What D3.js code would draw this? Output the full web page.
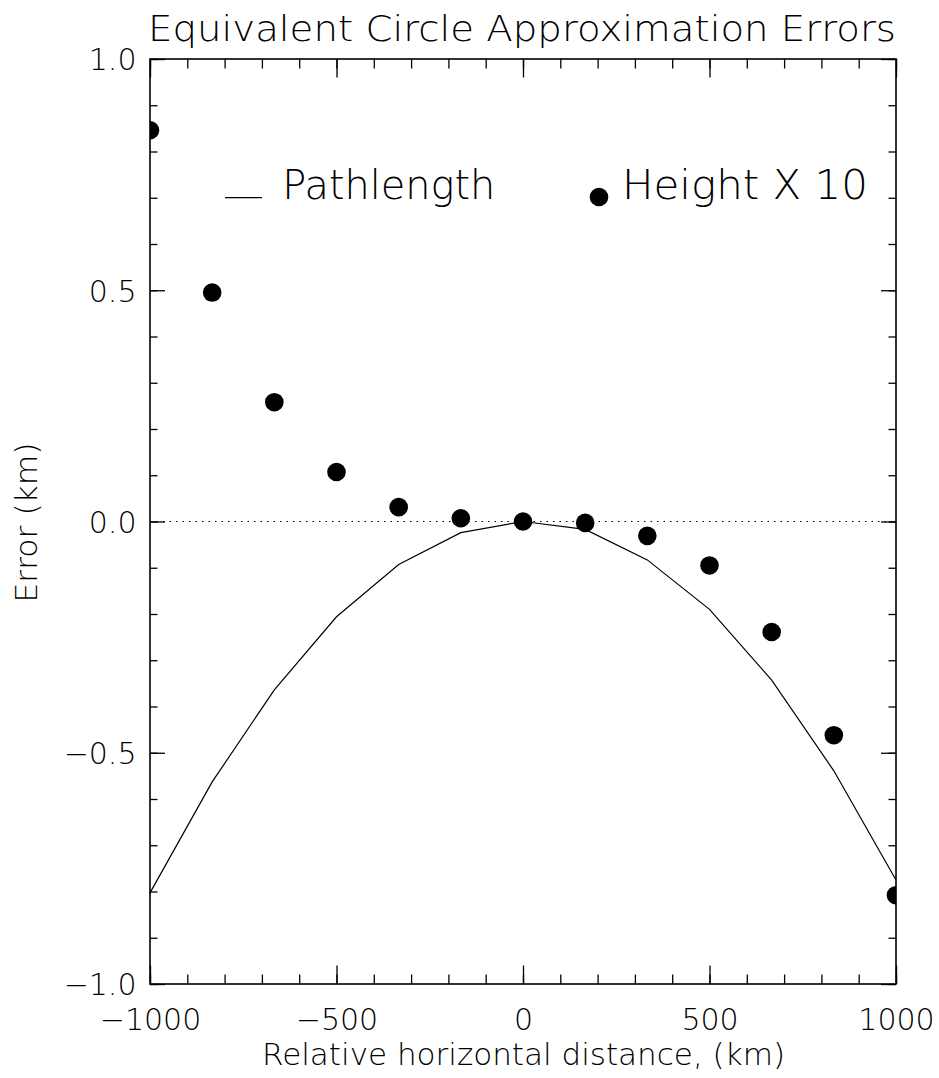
<!DOCTYPE html>
<html>
<head>
<meta charset="utf-8">
<script src="https://cdn.jsdelivr.net/npm/d3@7"></script>
<style>
  html, body { margin: 0; padding: 0; background: #fff; }
  svg { display: block; }
  text { font-family: "DejaVu Sans", "Liberation Sans", sans-serif; font-weight: 200; fill: #000; }
</style>
</head>
<body>
<svg id="chart" width="939" height="1078"></svg>
<script>
// ---- data ----
const distance   = [-1000, -833.3, -666.7, -500, -333.3, -166.7, 0, 166.7, 333.3, 500, 666.7, 833.3, 1000];
const pathlength = [-0.803, -0.563, -0.364, -0.206, -0.093, -0.024, 0, -0.017, -0.083, -0.190, -0.343, -0.539, -0.775];
const height10   = [0.846, 0.495, 0.258, 0.107, 0.031, 0.007, 0, -0.003, -0.031, -0.095, -0.239, -0.462, -0.808];
const xMajorTicks = [-1000, -500, 0, 500, 1000];
const yMajorTicks = [-1.0, -0.5, 0.0, 0.5, 1.0];
const xMinorTicks = d3.range(-1000, 1001, 100);
const yMinorTicks = d3.range(-10, 11, 1).map(d => d / 10);
const titleText = "Equivalent Circle Approximation Errors";
const xTitle = "Relative horizontal distance, (km)";
const yTitle = "Error (km)";
const legendLabels = ["Pathlength", "Height X 10"];

// ---- layout ----
const L = 150, R = 896, T = 59, B = 984;
const svg = d3.select("#chart");
const x = d3.scaleLinear().domain([-1000, 1000]).range([L, R]);
const y = d3.scaleLinear().domain([-1, 1]).range([B, T]);

const tickStyle = g => {
  g.select(".domain").remove();
  g.selectAll(".tick line").attr("stroke", "#000").attr("stroke-width", 1.3);
};

// minor ticks
svg.append("g").attr("transform", `translate(0,${B})`)
  .call(d3.axisBottom(x).tickValues(xMinorTicks).tickSize(-9.5).tickSizeOuter(0).tickFormat(""))
  .call(tickStyle);
svg.append("g").attr("transform", `translate(0,${T})`)
  .call(d3.axisTop(x).tickValues(xMinorTicks).tickSize(-9.5).tickSizeOuter(0).tickFormat(""))
  .call(tickStyle);
svg.append("g").attr("transform", `translate(${L},0)`)
  .call(d3.axisLeft(y).tickValues(yMinorTicks).tickSize(-7.5).tickSizeOuter(0).tickFormat(""))
  .call(tickStyle);
svg.append("g").attr("transform", `translate(${R},0)`)
  .call(d3.axisRight(y).tickValues(yMinorTicks).tickSize(-7.5).tickSizeOuter(0).tickFormat(""))
  .call(tickStyle);

// major ticks with labels
const xb = svg.append("g").attr("transform", `translate(0,${B})`)
  .call(d3.axisBottom(x).tickValues(xMajorTicks).tickSize(-18.5).tickSizeOuter(0).tickFormat(d3.format("d")))
  .call(tickStyle);
xb.selectAll(".tick text").attr("y", 45.5).attr("dy", 0).attr("font-size", 30)
  .attr("font-family", null).attr("fill", "#000");

svg.append("g").attr("transform", `translate(0,${T})`)
  .call(d3.axisTop(x).tickValues(xMajorTicks).tickSize(-18.5).tickSizeOuter(0).tickFormat(""))
  .call(tickStyle);

const yl = svg.append("g").attr("transform", `translate(${L},0)`)
  .call(d3.axisLeft(y).tickValues(yMajorTicks).tickSize(-15).tickSizeOuter(0).tickFormat(d3.format(".1f")))
  .call(tickStyle);
yl.selectAll(".tick text").attr("x", -13.5).attr("dy", "0.36em").attr("font-size", 30)
  .attr("font-family", null).attr("fill", "#000");

svg.append("g").attr("transform", `translate(${R},0)`)
  .call(d3.axisRight(y).tickValues(yMajorTicks).tickSize(-15).tickSizeOuter(0).tickFormat(""))
  .call(tickStyle);

// frame
svg.append("rect").attr("x", L).attr("y", T).attr("width", R - L).attr("height", B - T)
  .attr("fill", "none").attr("stroke", "#000").attr("stroke-width", 1.6);

// zero dotted line
svg.append("line").attr("x1", x(-1000)).attr("x2", x(1000)).attr("y1", y(0)).attr("y2", y(0))
  .attr("stroke", "#000").attr("stroke-width", 1.1).attr("stroke-dasharray", "1.5,5");

// pathlength line
const pts = distance.map((d, i) => [d, pathlength[i]]);
svg.append("path").datum(pts)
  .attr("fill", "none").attr("stroke", "#000").attr("stroke-width", 1.2)
  .attr("d", d3.line().x(d => x(d[0])).y(d => y(d[1])));

// height x10 dots (clipped to plot box)
svg.append("clipPath").attr("id", "clip").append("rect")
  .attr("x", L).attr("y", T).attr("width", R - L).attr("height", B - T);
svg.append("g").attr("clip-path", "url(#clip)")
  .selectAll("circle").data(distance.map((d, i) => [d, height10[i]])).join("circle")
  .attr("cx", d => x(d[0])).attr("cy", d => y(d[1])).attr("r", 9.3).attr("fill", "#000");

// title
svg.append("text").attr("x", 148).attr("y", 41).attr("font-size", 36)
  .attr("textLength", 748).attr("lengthAdjust", "spacingAndGlyphs").text(titleText);

// axis titles
svg.append("text").attr("x", 262).attr("y", 1065).attr("font-size", 30)
  .attr("textLength", 523).attr("lengthAdjust", "spacingAndGlyphs").text(xTitle);
svg.append("text").attr("transform", "translate(37,602.5) rotate(-90)").attr("x", 0).attr("y", 0)
  .attr("font-size", 30).attr("textLength", 160).attr("lengthAdjust", "spacingAndGlyphs").text(yTitle);

// legend
svg.append("line").attr("x1", 225).attr("x2", 262).attr("y1", 197.7).attr("y2", 197.7)
  .attr("stroke", "#000").attr("stroke-width", 1.2);
svg.append("text").attr("x", 282.3).attr("y", 198.7).attr("font-size", 40)
  .attr("textLength", 213).attr("lengthAdjust", "spacingAndGlyphs").text(legendLabels[0]);
svg.append("circle").attr("cx", 599).attr("cy", 197).attr("r", 9.3).attr("fill", "#000");
svg.append("text").attr("x", 622).attr("y", 198.7).attr("font-size", 40)
  .attr("textLength", 246).attr("lengthAdjust", "spacingAndGlyphs").text(legendLabels[1]);
</script>
</body>
</html>
